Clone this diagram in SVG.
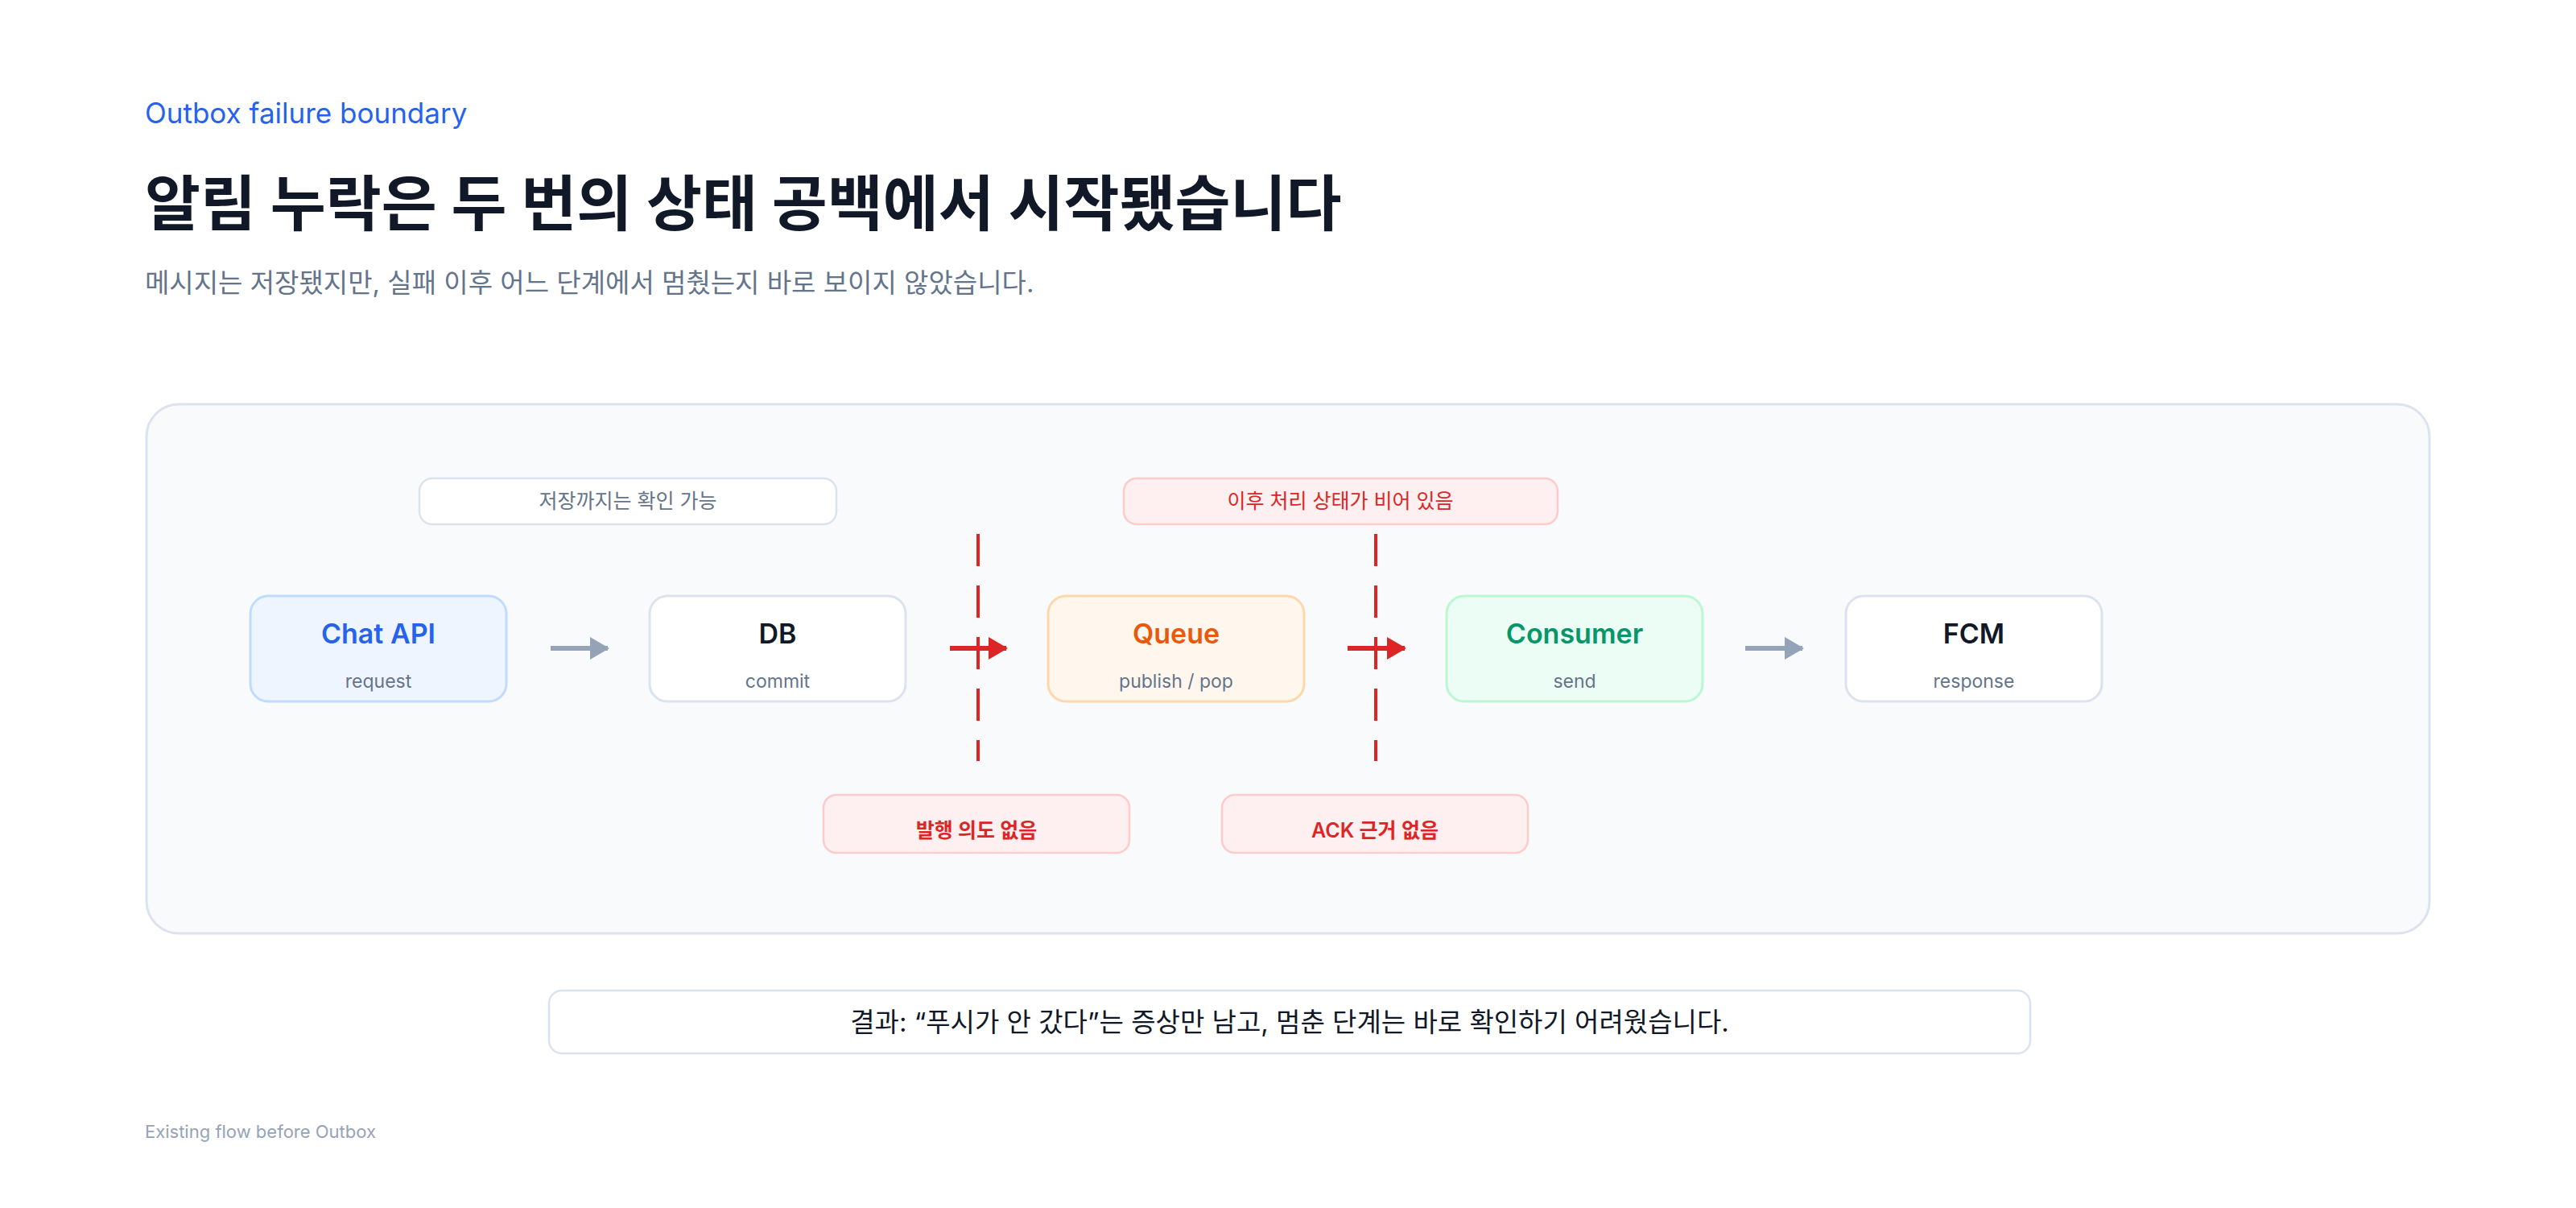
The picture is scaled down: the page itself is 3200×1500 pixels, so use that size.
<svg xmlns="http://www.w3.org/2000/svg" width="3200" height="1500" viewBox="0 0 3200 1500">
<style>
text{font-family:Inter,"Noto Sans CJK KR",sans-serif}
.nt{font-size:34px;font-weight:600;text-anchor:middle}
.ns{font-size:23px;fill:#64748b;text-anchor:middle}
.tag{font-size:25px;text-anchor:middle}
.gap{fill:#fef0f0;stroke:#fecaca;stroke-width:2.5}
</style>
<defs>
<marker id="ag" markerWidth="24" markerHeight="28" refX="22" refY="14" orient="auto" markerUnits="userSpaceOnUse" viewBox="0 0 24 28"><path d="M0,0L24,14L0,28z" fill="#94a3b8"/></marker>
<marker id="ar" markerWidth="24" markerHeight="28" refX="22" refY="14" orient="auto" markerUnits="userSpaceOnUse" viewBox="0 0 24 28"><path d="M0,0L24,14L0,28z" fill="#dc2626"/></marker>
</defs>
<rect width="3200" height="1500" fill="#fff"/>
<text x="180" y="153" font-size="35" fill="#2563eb">Outbox failure boundary</text>
<text x="180" y="280" font-size="75" font-weight="700" fill="#111827">알림 누락은 두 번의 상태 공백에서 시작됐습니다</text>
<text x="180" y="363" font-size="33" fill="#64748b">메시지는 저장됐지만, 실패 이후 어느 단계에서 멈췄는지 바로 보이지 않았습니다.</text>
<rect x="182" y="502" width="2836" height="657" rx="40" fill="#f8fafc" stroke="#dbe3ee" stroke-width="3"/>
<g id="note-saved"><rect x="521" y="594" width="518" height="57" rx="16" fill="#fff" stroke="#dbe3ee" stroke-width="2.5"/><text class="tag" x="780" y="631" fill="#64748b">저장까지는 확인 가능</text></g>
<g id="note-empty"><rect x="1396" y="594" width="539" height="57" rx="16" class="gap"/><text class="tag" x="1665" y="631" fill="#dc2626">이후 처리 상태가 비어 있음</text></g>
<g id="chatapi"><rect x="311" y="740" width="318" height="131" rx="22" fill="#eef5ff" stroke="#bfdbfe" stroke-width="3"/><text class="nt" x="470" y="799" fill="#2563eb">Chat API</text><text class="ns" x="470" y="854">request</text></g>
<g id="db"><rect x="807" y="740" width="318" height="131" rx="22" fill="#fff" stroke="#dbe3ee" stroke-width="3"/><text class="nt" x="966" y="799" fill="#111827">DB</text><text class="ns" x="966" y="854">commit</text></g>
<g id="queue"><rect x="1302" y="740" width="318" height="131" rx="22" fill="#fff7ed" stroke="#fed7aa" stroke-width="3"/><text class="nt" x="1461" y="799" fill="#ea580c">Queue</text><text class="ns" x="1461" y="854">publish / pop</text></g>
<g id="consumer"><rect x="1797" y="740" width="318" height="131" rx="22" fill="#ecfdf5" stroke="#bbf7d0" stroke-width="3"/><text class="nt" x="1956" y="799" fill="#059669">Consumer</text><text class="ns" x="1956" y="854">send</text></g>
<g id="fcm"><rect x="2293" y="740" width="318" height="131" rx="22" fill="#fff" stroke="#dbe3ee" stroke-width="3"/><text class="nt" x="2452" y="799" fill="#111827">FCM</text><text class="ns" x="2452" y="854">response</text></g>
<g id="connectors">
<line x1="684" y1="805" x2="755" y2="805" stroke="#94a3b8" stroke-width="6" marker-end="url(#ag)"/>
<line x1="1180" y1="805" x2="1250" y2="805" stroke="#dc2626" stroke-width="6" marker-end="url(#ar)"/>
<line x1="1674" y1="805" x2="1745" y2="805" stroke="#dc2626" stroke-width="6" marker-end="url(#ar)"/>
<line x1="2168" y1="805" x2="2239" y2="805" stroke="#94a3b8" stroke-width="6" marker-end="url(#ag)"/>
<line x1="1215" y1="663" x2="1215" y2="945" stroke="#dc2626" stroke-width="4" stroke-dasharray="40 24"/>
<line x1="1709" y1="663" x2="1709" y2="945" stroke="#dc2626" stroke-width="4" stroke-dasharray="40 24"/>
</g>
<g id="gap1"><rect x="1023" y="987" width="380" height="72" rx="16" class="gap"/><text class="tag" x="1213" y="1040" font-size="33" font-weight="600" fill="#dc2626">발행 의도 없음</text></g>
<g id="gap2"><rect x="1518" y="987" width="380" height="72" rx="16" class="gap"/><text class="tag" x="1708" y="1040" font-size="33" font-weight="600" fill="#dc2626">ACK 근거 없음</text></g>
<g id="result"><rect x="682" y="1230" width="1840" height="78" rx="16" fill="#fff" stroke="#dbe3ee" stroke-width="2.5"/><text x="1602" y="1281" font-size="33" text-anchor="middle" fill="#111827">결과: “푸시가 안 갔다”는 증상만 남고, 멈춘 단계는 바로 확인하기 어려웠습니다.</text></g>
<text x="180" y="1413" font-size="22" fill="#94a3b8">Existing flow before Outbox</text>
</svg>
